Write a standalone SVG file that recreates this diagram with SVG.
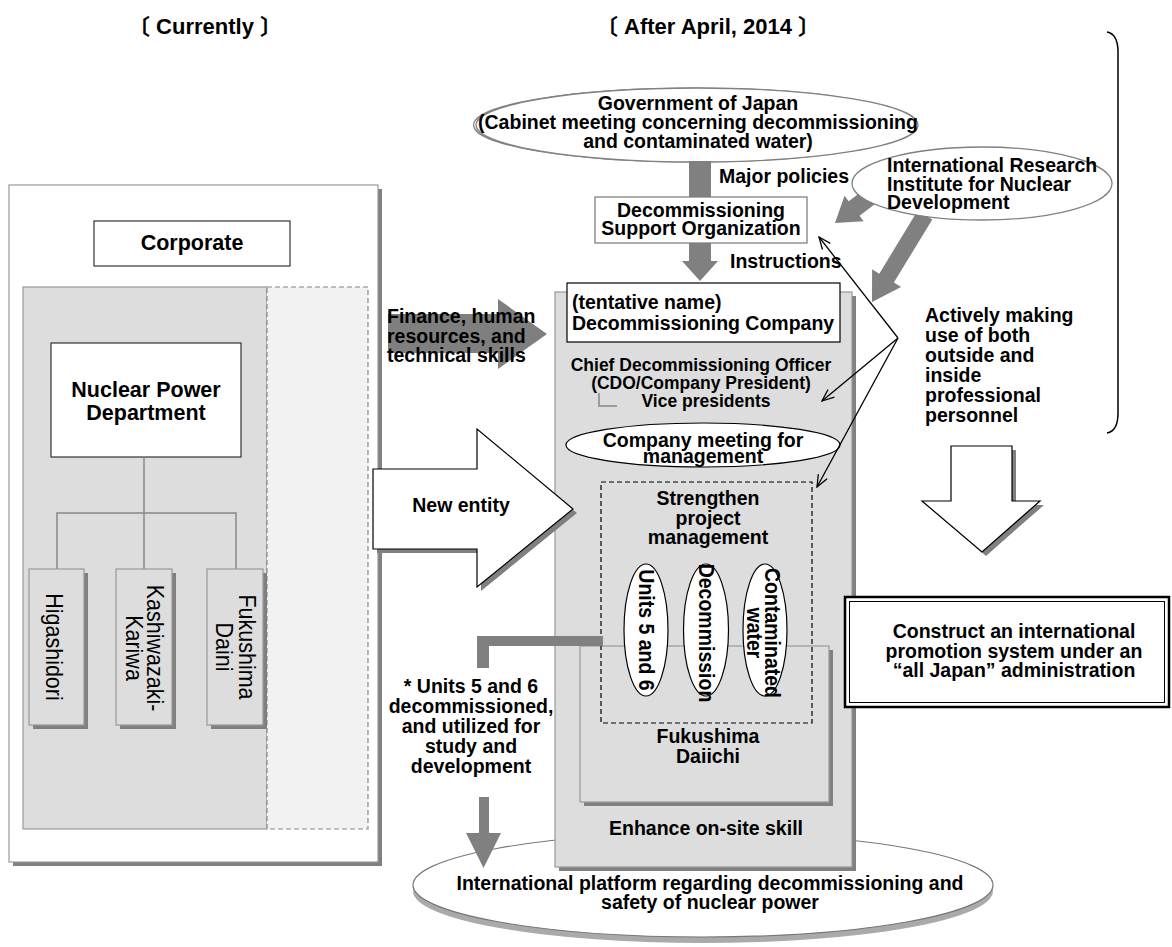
<svg xmlns="http://www.w3.org/2000/svg" width="1172" height="947" viewBox="0 0 1172 947">
<defs>
<style>
.t{font-family:"Liberation Sans",Arial,"Noto Sans CJK JP",sans-serif;fill:#000}
.b{font-weight:bold}
.f22{font-size:22px}
.f21{font-size:21.5px}
.f19{font-size:19.5px}
.f17{font-size:17.5px}
.m{text-anchor:middle}
.sh{fill:#808080}
.lg{fill:#dddddd;stroke:#999;stroke-width:1.2}
.gray{fill:#808080}
.thin{stroke:#000;stroke-width:1.3;fill:none;marker-end:url(#open)}
</style>
<marker id="open" viewBox="0 0 14 12" refX="13" refY="6" markerWidth="14" markerHeight="12" markerUnits="userSpaceOnUse" orient="auto">
<path d="M1,1 L13,6 L1,11" fill="none" stroke="#000" stroke-width="1.3"/>
</marker>
</defs>
<rect width="1172" height="947" fill="#fff"/>

<g id="titles">
<text class="t b f22 m" x="205" y="34">〔 Currently 〕</text>
<text class="t b f22 m" x="708" y="34">〔 After April, 2014 〕</text>
</g>

<g id="left-current">
<rect class="sh" x="13" y="189" width="369" height="677"/>
<rect x="9" y="185" width="369" height="677" fill="#fff" stroke="#999" stroke-width="1.2"/>
<rect x="23" y="287" width="244" height="542" fill="#dddddd" stroke="#999" stroke-width="1.2"/>
<rect x="267" y="287" width="101" height="542" fill="#f2f2f2" stroke="#888" stroke-width="1.2" stroke-dasharray="5,3"/>
</g>

<g id="corporate">
<rect x="94" y="221" width="196" height="45" fill="#fff" stroke="#333" stroke-width="1.2"/>
<text class="t b f21 m" x="192" y="250">Corporate</text>
</g>

<g id="nuclear-power-dept">
<rect x="51" y="343" width="190" height="114" fill="#fff" stroke="#333" stroke-width="1.2"/>
<text class="t b f21 m" x="146" y="397">Nuclear Power</text>
<text class="t b f21 m" x="146" y="420">Department</text>
</g>

<g id="tree" fill="none" stroke="#888" stroke-width="1.5">
<path d="M144,457 V569 M57,569 V513 H236 V569"/>
</g>

<g id="higashidori">
<rect class="sh" x="33" y="573" width="55" height="156"/>
<rect class="lg" x="29" y="569" width="55" height="156"/>
<text class="t f21 m" transform="translate(46,647) rotate(90) scale(1,1.1)">Higashidori</text>
</g>
<g id="kashiwazaki-kariwa">
<rect class="sh" x="120" y="573" width="56" height="156"/>
<rect class="lg" x="116" y="569" width="56" height="156"/>
<text class="t f21 m" transform="translate(147,648) rotate(90) scale(1,1.1)">Kashiwazaki-</text>
<text class="t f21 m" transform="translate(126,648) rotate(90) scale(1,1.1)">Kariwa</text>
</g>
<g id="fukushima-daini">
<rect class="sh" x="211" y="573" width="56" height="156"/>
<rect class="lg" x="207" y="569" width="56" height="156"/>
<text class="t f21 m" transform="translate(239,647) rotate(90) scale(1,1.1)">Fukushima</text>
<text class="t f21 m" transform="translate(216,647) rotate(90) scale(1,1.1)">Daini</text>
</g>

<g id="platform">
<ellipse cx="703" cy="891" rx="290" ry="52" fill="#aaa"/>
<ellipse cx="703" cy="885" rx="290" ry="52" fill="#fff" stroke="#777" stroke-width="1.2"/>
<text class="t b f19 m" x="710" y="890">International platform regarding decommissioning and</text>
<text class="t b f19 m" x="710" y="909">safety of nuclear power</text>
</g>

<g id="decommissioning-company-area">
<rect class="sh" x="559" y="296" width="297" height="575"/>
<rect class="lg" x="555" y="292" width="297" height="575"/>
<text class="t b f17 m" x="701" y="371">Chief Decommissioning Officer</text>
<text class="t b f17 m" x="701" y="389">(CDO/Company President)</text>
<text class="t b f17 m" x="706" y="407">Vice presidents</text>
<path d="M599,393 V406 H617" fill="none" stroke="#888" stroke-width="1.5"/>
<text class="t b f19 m" x="706" y="835">Enhance on-site skill</text>
</g>

<g id="decommissioning-company">
<rect x="567" y="283" width="273" height="59" fill="#fff" stroke="#000" stroke-width="1.2"/>
<text class="t b f19" x="572" y="309">(tentative name)</text>
<text class="t b f19" x="572" y="330">Decommissioning Company</text>
</g>

<g id="company-meeting">
<ellipse cx="703" cy="445" rx="137" ry="22" fill="#fff" stroke="#000" stroke-width="1.2"/>
<text class="t b f19 m" x="703" y="447">Company meeting for</text>
<text class="t b f19 m" x="703" y="463">management</text>
</g>

<g id="fukushima-daiichi">
<rect class="sh" x="584" y="650" width="249" height="156"/>
<rect class="lg" x="580" y="646" width="249" height="156"/>
<text class="t b f19 m" x="708" y="743">Fukushima</text>
<text class="t b f19 m" x="708" y="763">Daiichi</text>
</g>

<g id="project-management">
<rect x="601" y="482" width="211" height="241" fill="none" stroke="#000" stroke-width="1.2" stroke-dasharray="5,3"/>
<text class="t b f19 m" x="708" y="505">Strengthen</text>
<text class="t b f19 m" x="708" y="525">project</text>
<text class="t b f19 m" x="708" y="544">management</text>
</g>
<g id="units-5-6">
<ellipse cx="646" cy="630" rx="22" ry="66" fill="#fff" stroke="#000" stroke-width="1.2"/>
<text class="t b f19 m" transform="translate(639,630) rotate(90) scale(1,1.1)">Units 5 and 6</text>
</g>
<g id="decommission">
<ellipse cx="706" cy="630" rx="22.5" ry="66" fill="#fff" stroke="#000" stroke-width="1.2"/>
<text class="t b f19 m" transform="translate(699,633) rotate(90) scale(1,1.1)">Decommission</text>
</g>
<g id="contaminated-water">
<ellipse cx="765" cy="630" rx="22" ry="66" fill="#fff" stroke="#000" stroke-width="1.2"/>
<text class="t b f19 m" transform="translate(765,633) rotate(90) scale(1,1.1)">Contaminated</text>
<text class="t b f19 m" transform="translate(747,633) rotate(90) scale(1,1.1)">water</text>
</g>

<g id="government">
<ellipse cx="694.5" cy="125" rx="221" ry="37" fill="#fff" stroke="#808080" stroke-width="1.2"/>
<ellipse cx="697" cy="125" rx="221" ry="37" fill="#fff" stroke="#808080" stroke-width="1.3"/>
<text class="t b f19 m" x="698" y="110">Government of Japan</text>
<text class="t b f19 m" x="698" y="129">(Cabinet meeting concerning decommissioning</text>
<text class="t b f19 m" x="698" y="148">and contaminated water)</text>
</g>

<g id="connectors">
<rect class="gray" x="689" y="161" width="22" height="37"/>
<polygon class="gray" points="689,243 711,243 711,261 718,261 700,281 682,261 689,261"/>
<polygon class="gray" points="866.6,187.8 848.7,201.3 844.5,195.7 835,223 863.7,221.3 859.5,215.7 877.4,202.2"/>
<polygon class="gray" points="917.7,210.6 879.3,273.7 872.1,269.3 872,302 901.1,286.9 893.9,282.5 932.3,219.4"/>
<polygon fill="#7f7f7f" points="388,314 498,314 498,299 547,334 498,369 498,353 388,353"/>
<rect class="gray" x="477" y="636" width="126" height="10"/>
<rect class="gray" x="477" y="636" width="12" height="32"/>
<polygon class="gray" points="479,797 489,797 489,833 501,833 483.5,868 466,833 479,833"/>
<line class="thin" x1="898" y1="338" x2="819" y2="237"/>
<line class="thin" x1="898" y1="338" x2="822" y2="401"/>
<line class="thin" x1="898" y1="338" x2="817" y2="487"/>
</g>

<g id="dso">
<rect x="595" y="197" width="212" height="46" fill="#fff" stroke="#808080" stroke-width="1.3"/>
<text class="t b f19 m" x="701" y="217">Decommissioning</text>
<text class="t b f19 m" x="701" y="235">Support Organization</text>
</g>

<g id="irid">
<ellipse cx="982" cy="183.5" rx="130" ry="36.5" fill="#fff" stroke="#808080" stroke-width="1.3"/>
<text class="t b f19" x="887" y="172">International Research</text>
<text class="t b f19" x="887" y="191">Institute for Nuclear</text>
<text class="t b f19" x="887" y="209">Development</text>
</g>

<g id="labels">
<text class="t b f19" x="719" y="183">Major policies</text>
<text class="t b f19" x="730" y="268">Instructions</text>
<text class="t b f19" x="387" y="323">Finance, human</text>
<text class="t b f19" x="387" y="343">resources, and</text>
<text class="t b f19" x="387" y="362">technical skills</text>
<text class="t b f19 m" x="471" y="693">* Units 5 and 6</text>
<text class="t b f19 m" x="471" y="713">decommissioned,</text>
<text class="t b f19 m" x="471" y="733">and utilized for</text>
<text class="t b f19 m" x="471" y="753">study and</text>
<text class="t b f19 m" x="471" y="773">development</text>
<text class="t b f19" x="925" y="322">Actively making</text>
<text class="t b f19" x="925" y="342">use of both</text>
<text class="t b f19" x="925" y="362">outside and</text>
<text class="t b f19" x="925" y="382">inside</text>
<text class="t b f19" x="925" y="402">professional</text>
<text class="t b f19" x="925" y="422">personnel</text>
</g>

<g id="brace">
<path d="M1107,32 Q1118,34 1118,52 L1118,413 Q1118,431 1107,433" fill="none" stroke="#000" stroke-width="1.5"/>
</g>

<g id="new-entity">
<polygon class="sh" points="377,473 481,473 481,433 577,513 481,591 481,553 377,553"/>
<polygon points="373,469 477,469 477,429 573,509 477,587 477,549 373,549" fill="#fff" stroke="#000" stroke-width="1.2"/>
<text class="t b f19 m" x="461" y="512">New entity</text>
</g>

<g id="down-arrow">
<polygon class="sh" points="955,450 1016,450 1016,505 1044,505 986,556 926,505 955,505"/>
<polygon points="951,446 1012,446 1012,501 1040,501 982,552 922,501 951,501" fill="#fff" stroke="#000" stroke-width="1.2"/>
</g>

<g id="all-japan">
<rect x="845" y="597" width="324" height="110" fill="#fff" stroke="#000" stroke-width="2.5"/>
<rect x="849.5" y="601.5" width="315" height="101" fill="none" stroke="#000" stroke-width="1"/>
<text class="t b f19 m" x="1014" y="638">Construct an international</text>
<text class="t b f19 m" x="1014" y="658">promotion system under an</text>
<text class="t b f19 m" x="1014" y="677">“all Japan” administration</text>
</g>
</svg>
